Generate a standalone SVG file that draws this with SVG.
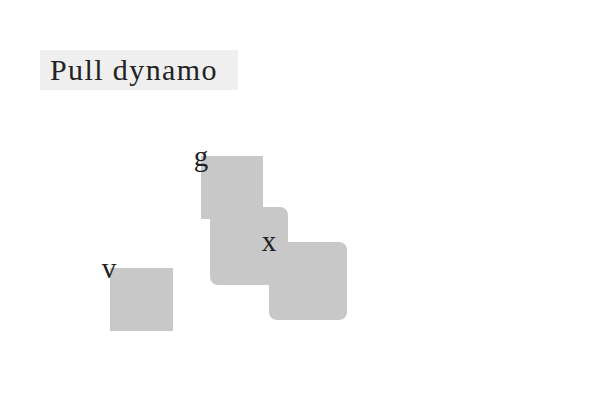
<svg xmlns="http://www.w3.org/2000/svg" width="600" height="400" viewBox="0 0 600 400">
<style>
.node{fill:#c8c8c8;}
.lbl{font-family:"Liberation Serif","Times New Roman",serif;font-size:29px;fill:#222;text-anchor:middle;}
.title{font-family:"Liberation Serif","Times New Roman",serif;font-size:30px;fill:#222;letter-spacing:1.4px;}
</style>
<rect width="600" height="400" fill="#ffffff"/>
<g id="title">
<rect x="40" y="50" width="198" height="40" fill="#efefef"/>
<text class="title" x="50" y="80">Pull dynamo</text>
</g>
<g id="connectors"></g>
<g id="node-g">
<rect class="node" x="201" y="156" width="62" height="63"/>
<text class="lbl" x="201" y="166">g</text>
</g>
<g id="node-mid">
<rect class="node" x="210" y="207" width="78" height="78" rx="8"/>
</g>
<g id="node-x">
<rect class="node" x="269" y="242" width="78" height="78" rx="8"/>
<text class="lbl" x="269" y="251">x</text>
</g>
<g id="node-v">
<rect class="node" x="110" y="268" width="63" height="63"/>
<text class="lbl" x="109" y="278">v</text>
</g>
</svg>
